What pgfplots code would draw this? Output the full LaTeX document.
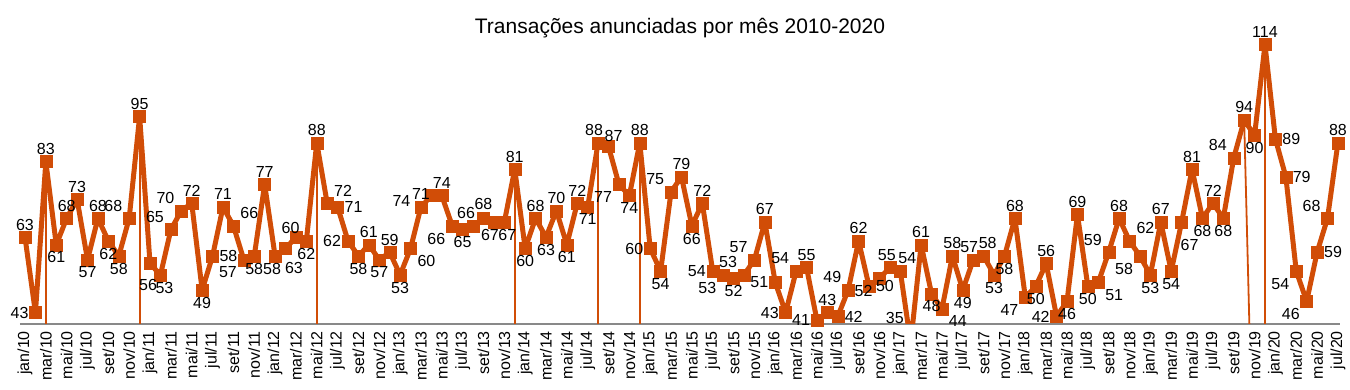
\documentclass[border=0pt]{standalone}
\usepackage{fontspec}
\setmainfont{Liberation Sans}
\usepackage{pgfplots}
\pgfplotsset{compat=1.18}
\usepackage{pgfplotstable}
\definecolor{lor}{RGB}{209,77,7}
\definecolor{axg}{RGB}{137,137,137}

\pgfplotstableread{
x y
0 63
1 43
2 83
3 61
4 68
5 73
6 57
7 68
8 62
9 58
10 68
11 95
12 56
13 53
14 65
15 70
16 72
17 49
18 58
19 71
20 66
21 57
22 58
23 77
24 58
25 60
26 63
27 62
28 88
29 72
30 71
31 62
32 58
33 61
34 57
35 59
36 53
37 60
38 71
39 74
40 74
41 66
42 65
43 66
44 68
45 67
46 67
47 81
48 60
49 68
50 63
51 70
52 61
53 72
54 71
55 88
56 87
57 77
58 74
59 88
60 60
61 54
62 75
63 79
64 66
65 72
66 54
67 53
68 52
69 53
70 57
71 67
72 51
73 43
74 54
75 55
76 41
77 43
78 42
79 49
80 62
81 50
82 52
83 55
84 54
85 35
86 61
87 48
88 44
89 58
90 49
91 57
92 58
93 53
94 58
95 68
96 47
97 50
98 56
99 42
100 46
101 69
102 50
103 51
104 59
105 68
106 62
107 58
108 53
109 67
110 54
111 67
112 81
113 68
114 72
115 68
116 84
117 94
118 90
119 114
120 89
121 79
122 54
123 46
124 59
125 68
126 88
}\data

\pgfplotsset{
  lbl/.style={only marks, mark=none, nodes near coords, point meta=y,
    every node near coord/.append style={anchor=#1, font=\fontsize{16}{16}\selectfont, inner sep=0pt, outer sep=7pt, text=black}},
  lblx/.style n args={3}{lbl=#1, every node near coord/.append style={xshift=#2, yshift=#3}},
}

\begin{document}
\begin{tikzpicture}
\begin{axis}[
  scale only axis, width=1320pt, height=302pt,
  xmin=-0.48, xmax=126.2, ymin=40, ymax=120,
  axis x line=bottom, axis y line=none,
  x axis line style={-, draw=axg, line width=2pt},
  ytick=\empty,
  xtick={0,2,...,126},
  xticklabels={jan/10,mar/10,mai/10,jul/10,set/10,nov/10,
    jan/11,mar/11,mai/11,jul/11,set/11,nov/11,
    jan/12,mar/12,mai/12,jul/12,set/12,nov/12,
    jan/13,mar/13,mai/13,jul/13,set/13,nov/13,
    jan/14,mar/14,mai/14,jul/14,set/14,nov/14,
    jan/15,mar/15,mai/15,jul/15,set/15,nov/15,
    jan/16,mar/16,mai/16,jul/16,set/16,nov/16,
    jan/17,mar/17,mai/17,jul/17,set/17,nov/17,
    jan/18,mar/18,mai/18,jul/18,set/18,nov/18,
    jan/19,mar/19,mai/19,jul/19,set/19,nov/19,
    jan/20,mar/20,mai/20,jul/20},
  xticklabel style={yshift=-6pt, rotate=90, anchor=east, font=\fontsize{16}{16}\selectfont, inner sep=1pt},
  major tick length=0pt,
  title={Transações anunciadas por mês 2010-2020},
  title style={font=\fontsize{21}{23}\selectfont, at={(0.5,1)}, anchor=center, yshift=-12pt},
  /pgf/number format/assume math mode=true,
]
\addplot[ycomb, draw=lor, line width=1.8pt, mark=none] coordinates {(2,83) (11,95) (28,88) (47,81) (55,88) (59,88) (119,114)};
\addplot[draw=lor, line width=1.8pt, mark=none] coordinates {(117,94) (117.5,40)};
\addplot[draw=lor, line width=5pt, line join=round, mark=none] table[x=x,y=y]{\data};
\addplot[only marks, mark=square*, mark size=6pt, mark options={draw=lor, fill=lor}, restrict y to domain=39:200] table[x=x,y=y]{\data};
% data labels, grouped by position
\addplot[lbl=south] coordinates {(0,63)(2,83)(4,68)(5,73)(7,68)(11,95)(16,72)(19,71)(23,77)(28,88)(33,61)(35,59)(38,71)(40,74)(47,81)(49,68)(51,70)(53,72)(59,88)(63,79)(65,72)(71,67)(75,55)(77,43)(80,62)(86,61)(89,58)(95,68)(98,56)(101,69)(105,68)(109,67)(112,81)(114,72)(117,94)(119,114)(126,88)};
\addplot[lbl=north] coordinates {(3,61)(6,57)(8,62)(9,58)(17,49)(22,58)(27,62)(32,58)(34,57)(36,53)(42,65)(48,60)(50,63)(52,61)(54,71)(58,74)(61,54)(64,66)(68,52)(87,48)(90,49)(93,53)(94,58)(97,50)(100,46)(102,50)(108,53)(110,54)(113,68)(115,68)(118,90)};
\addplot[lbl=east] coordinates {(1,43)(31,62)(60,60)(66,54)(72,51)(73,43)(76,41)(99,42)};
\addplot[lbl=east, point meta=explicit] coordinates {(85,41.5)[35]};
\addplot[lbl=west] coordinates {(18,58)(30,71)(78,42)(81,50)(120,89)(121,79)(124,59)};
\addplot[lbl=south east] coordinates {(10,68)(14,65)(15,70)(62,75)(69,53)(70,57)(74,54)(79,49)(104,59)(116,84)(125,68)};
\addplot[lbl=south west] coordinates {(20,66)(29,72)(106,62)};
\addplot[lbl=north east] coordinates {(21,57)(41,66)(57,77)(67,53)(82,52)(96,47)(107,58)(122,54)(123,46)};
\addplot[lbl=north west] coordinates {(37,60)(88,44)(103,51)};
% individually adjusted labels
\addplot[lblx={north}{-2pt}{-9pt}] coordinates {(12,56)};
\addplot[lblx={north}{4pt}{0pt}] coordinates {(13,53)};
\addplot[lblx={north}{-3pt}{0pt}] coordinates {(24,58)};
\addplot[lblx={south}{5pt}{8pt}] coordinates {(25,60)};
\addplot[lblx={north}{-2pt}{-18pt}] coordinates {(26,63)};
\addplot[lblx={east}{-14pt}{-5pt}] coordinates {(39,74)};
\addplot[lblx={south}{-7pt}{0pt}] coordinates {(43,66)};
\addplot[lblx={south}{0pt}{2pt}] coordinates {(44,68)};
\addplot[lblx={north}{-4pt}{0pt}] coordinates {(45,67)};
\addplot[lblx={north}{3pt}{0pt}] coordinates {(46,67)};
\addplot[lblx={south}{-4pt}{0pt}] coordinates {(55,88)};
\addplot[lblx={south}{5pt}{-2pt}] coordinates {(56,87)};
\addplot[lblx={south}{-3pt}{0pt}] coordinates {(83,55)};
\addplot[lblx={south}{7pt}{0pt}] coordinates {(84,54)};
\addplot[lblx={south}{-4pt}{0pt}] coordinates {(91,57)};
\addplot[lblx={south}{4pt}{0pt}] coordinates {(92,58)};
\addplot[lblx={north}{8pt}{-10pt}] coordinates {(111,67)};
\end{axis}
\pgfresetboundingbox
\path[use as bounding box] (-20pt,-66pt) rectangle (1330pt,324pt);
\end{tikzpicture}
\end{document}
